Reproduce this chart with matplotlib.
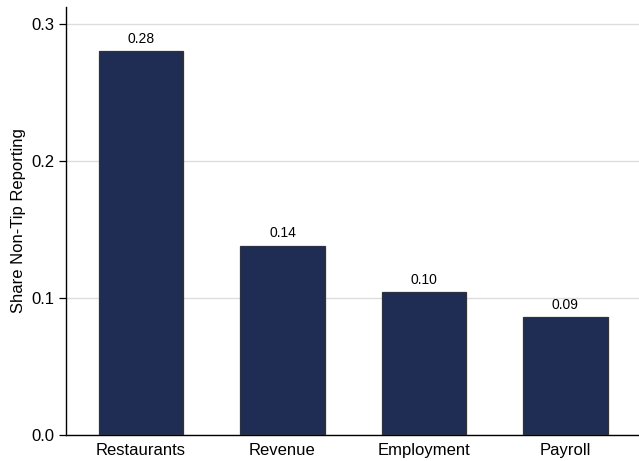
import numpy as np
from matplotlib import pyplot as plt

plt.rcParams['font.family'] = ['Liberation Sans', 'DejaVu Sans']

# data
categories = ["Restaurants", "Revenue", "Employment", "Payroll"]
shares = [0.28, 0.138, 0.104, 0.086]
yticks = [0.0, 0.1, 0.2, 0.3]

fig = plt.figure(figsize=(6.39, 4.61), dpi=100)
ax = fig.add_axes([0.1033, 0.0564, 0.8967, 0.9286])

x = np.arange(len(categories))
bars = ax.bar(x, shares, width=0.6, color="#1f2d54", edgecolor="#333333",
              linewidth=0.9, zorder=3)

for b, v in zip(bars, shares):
    ax.annotate(f"{v:.2f}", (b.get_x() + b.get_width() / 2, v),
                xytext=(0, 4), textcoords="offset points",
                ha="center", va="bottom", fontsize=10)

ax.set_xlim(-0.53, 3.52)
ax.set_ylim(0, 0.3124)
ax.set_yticks(yticks)
ax.set_yticklabels([f"{t:.1f}" for t in yticks], fontsize=12)
ax.set_xticks(x)
ax.set_xticklabels(categories, fontsize=12)
ax.tick_params(axis="x", length=0, pad=6)
ax.tick_params(axis="y", length=5, width=0.9, direction="out")
ax.yaxis.grid(True, color="#dddddd", linewidth=1, zorder=0)
ax.set_axisbelow(True)

for s in ["top", "right"]:
    ax.spines[s].set_visible(False)
for s in ["left", "bottom"]:
    ax.spines[s].set_linewidth(1.0)
    ax.spines[s].set_color("black")

ax.set_ylabel("Share Non-Tip Reporting", fontsize=12)

fig.savefig("out.png", dpi=100)
